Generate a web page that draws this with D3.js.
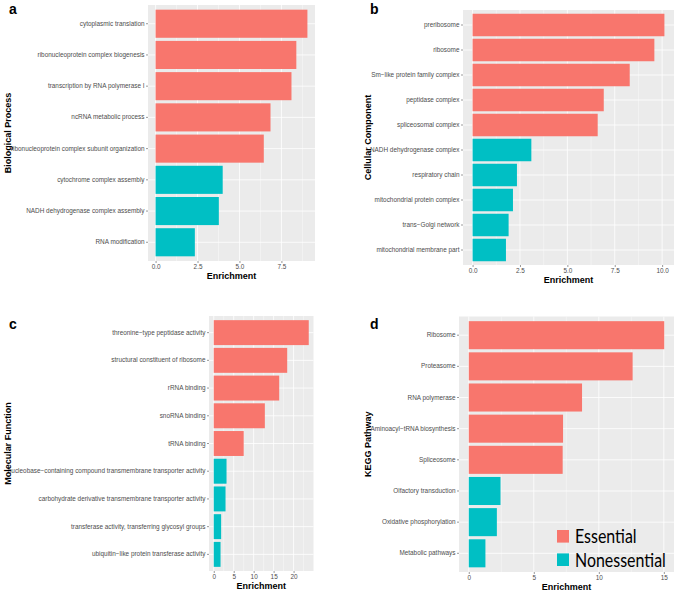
<!DOCTYPE html>
<html>
<head>
<meta charset="utf-8">
<script src="https://cdn.jsdelivr.net/npm/d3@7"></script>
<style>
  html, body { margin: 0; padding: 0; background: #fff; }
  svg { display: block; font-family: "Liberation Sans", Arial, Helvetica, sans-serif; }
</style>
</head>
<body>
<svg id="chart" width="675" height="592"></svg>
<script>
// ---------- DATA ----------
const groupNames = ["Essential", "Nonessential"];
const groupColors = ["#F8766D", "#00BFC4"];

const bpTerms = ["cytoplasmic translation", "ribonucleoprotein complex biogenesis", "transcription by RNA polymerase I",
  "ncRNA metabolic process", "ribonucleoprotein complex subunit organization", "cytochrome complex assembly",
  "NADH dehydrogenase complex assembly", "RNA modification"];
const bpValues = [9.05, 8.39, 8.1, 6.85, 6.45, 4.0, 3.77, 2.34];
const bpGroups = ["Essential", "Essential", "Essential", "Essential", "Essential", "Nonessential", "Nonessential", "Nonessential"];
const bpTicks = [0, 2.5, 5, 7.5];

const ccTerms = ["preribosome", "ribosome", "Sm\u2212like protein family complex", "peptidase complex", "spliceosomal complex",
  "NADH dehydrogenase complex", "respiratory chain", "mitochondrial protein complex", "trans\u2212Golgi network",
  "mitochondrial membrane part"];
const ccValues = [10.12, 9.59, 8.29, 6.92, 6.6, 3.1, 2.34, 2.13, 1.9, 1.76];
const ccGroups = ["Essential", "Essential", "Essential", "Essential", "Essential", "Nonessential", "Nonessential", "Nonessential", "Nonessential", "Nonessential"];
const ccTicks = [0, 2.5, 5, 7.5, 10];

const mfTerms = ["threonine\u2212type peptidase activity", "structural constituent of ribosome", "rRNA binding",
  "snoRNA binding", "tRNA binding", "nucleobase\u2212containing compound transmembrane transporter activity",
  "carbohydrate derivative transmembrane transporter activity", "transferase activity, transferring glycosyl groups",
  "ubiquitin\u2212like protein transferase activity"];
const mfValues = [23.8, 18.4, 16.4, 12.8, 7.5, 3.2, 2.95, 1.85, 1.7];
const mfGroups = ["Essential", "Essential", "Essential", "Essential", "Essential", "Nonessential", "Nonessential", "Nonessential", "Nonessential"];
const mfTicks = [0, 5, 10, 15, 20];

const keggTerms = ["Ribosome", "Proteasome", "RNA polymerase", "Aminoacyl\u2212tRNA biosynthesis", "Spliceosome",
  "Olfactory transduction", "Oxidative phosphorylation", "Metabolic pathways"];
const keggValues = [15.03, 12.6, 8.71, 7.25, 7.22, 2.44, 2.16, 1.28];
const keggGroups = ["Essential", "Essential", "Essential", "Essential", "Essential", "Nonessential", "Nonessential", "Nonessential"];
const keggTicks = [0, 5, 10, 15];

// ---------- LAYOUT ----------
const panels = [
  { tag: "a", title: "Biological Process", terms: bpTerms, values: bpValues, groups: bpGroups, ticks: bpTicks, fmt: ".1f",
    box: { x0: 148, x1: 315, y0: 5, y1: 261 }, titleX: 7.5, tagX: 9, tagY: 14 },
  { tag: "b", title: "Cellular Component", terms: ccTerms, values: ccValues, groups: ccGroups, ticks: ccTicks, fmt: ".1f",
    box: { x0: 463, x1: 674, y0: 10, y1: 265 }, titleX: 367.5, tagX: 370, tagY: 14 },
  { tag: "c", title: "Molecular Function", terms: mfTerms, values: mfValues, groups: mfGroups, ticks: mfTicks, fmt: "d",
    box: { x0: 209, x1: 313.5, y0: 316, y1: 571 }, titleX: 7.5, tagX: 9, tagY: 329 },
  { tag: "d", title: "KEGG Pathway", terms: keggTerms, values: keggValues, groups: keggGroups, ticks: keggTicks, fmt: "d",
    box: { x0: 459, x1: 674, y0: 316.5, y1: 572 }, titleX: 367.5, tagX: 370, tagY: 329 }
];

const color = d3.scaleOrdinal().domain(groupNames).range(groupColors);
const svg = d3.select("#chart");

panels.forEach(p => {
  const b = p.box;
  const max = d3.max(p.values);
  const x = d3.scaleLinear().domain([-0.05 * max, 1.05 * max]).range([b.x0, b.x1]);
  const y = d3.scaleBand().domain(p.terms).range([b.y0, b.y1]).paddingInner(0.1).paddingOuter(0.15);
  const g = svg.append("g");

  // panel background
  g.append("rect").attr("x", b.x0).attr("y", b.y0).attr("width", b.x1 - b.x0).attr("height", b.y1 - b.y0)
    .attr("fill", "#EBEBEB");

  // minor grid
  const step = p.ticks[1] - p.ticks[0];
  const minors = [p.ticks[0] - step / 2].concat(p.ticks.map(t => t + step / 2))
    .filter(v => v >= x.domain()[0] && v <= x.domain()[1]);
  g.selectAll(".minor").data(minors).enter().append("line")
    .attr("x1", d => x(d)).attr("x2", d => x(d)).attr("y1", b.y0).attr("y2", b.y1)
    .attr("stroke", "#fff").attr("stroke-width", 0.4);
  // major grid
  g.selectAll(".majorx").data(p.ticks).enter().append("line")
    .attr("x1", d => x(d)).attr("x2", d => x(d)).attr("y1", b.y0).attr("y2", b.y1)
    .attr("stroke", "#fff").attr("stroke-width", 0.8);
  g.selectAll(".majory").data(p.terms).enter().append("line")
    .attr("x1", b.x0).attr("x2", b.x1)
    .attr("y1", d => y(d) + y.bandwidth() / 2).attr("y2", d => y(d) + y.bandwidth() / 2)
    .attr("stroke", "#fff").attr("stroke-width", 0.8);

  // bars
  g.selectAll(".bar").data(p.terms).enter().append("rect")
    .attr("x", x(0)).attr("y", d => y(d))
    .attr("width", (d, i) => x(p.values[i]) - x(0))
    .attr("height", y.bandwidth())
    .attr("fill", (d, i) => color(p.groups[i]));

  // y axis
  const ya = g.append("g").attr("transform", `translate(${b.x0},0)`)
    .call(d3.axisLeft(y).tickSize(2).tickPadding(1.5));
  ya.select(".domain").remove();
  ya.selectAll("line").attr("stroke", "#333").attr("stroke-width", 0.5);
  ya.selectAll("text").attr("fill", "#4D4D4D").style("font-size", "6.4px")
    .style("font-family", "'Liberation Sans', Arial, sans-serif");

  // x axis
  const xa = g.append("g").attr("transform", `translate(0,${b.y1})`)
    .call(d3.axisBottom(x).tickValues(p.ticks).tickFormat(d3.format(p.fmt)).tickSize(2).tickPadding(1.5));
  xa.select(".domain").remove();
  xa.selectAll("line").attr("stroke", "#333").attr("stroke-width", 0.5);
  xa.selectAll("text").attr("fill", "#4D4D4D").style("font-size", "6.4px")
    .style("font-family", "'Liberation Sans', Arial, sans-serif");

  // x title
  g.append("text").attr("x", (b.x0 + b.x1) / 2).attr("y", b.y1 + 18)
    .attr("text-anchor", "middle").style("font-size", "9px").style("font-weight", "bold")
    .attr("fill", "#000").text("Enrichment");

  // y title
  g.append("text").attr("transform", `translate(${p.titleX + 3},${(b.y0 + b.y1) / 2}) rotate(-90)`)
    .attr("text-anchor", "middle").style("font-size", "9px").style("font-weight", "bold")
    .attr("fill", "#000").text(p.title);

  // panel tag
  g.append("text").attr("x", p.tagX).attr("y", p.tagY)
    .style("font-size", "14px").style("font-weight", "bold").attr("fill", "#000").text(p.tag);

  // legend inside panel d
  if (p.tag === "d") {
    const lg = g.append("g");
    const legendY = d3.scalePoint().domain(groupNames).range([536.3, 559.7]);
    lg.selectAll("rect").data(groupNames).enter().append("rect")
      .attr("x", 557).attr("y", d => legendY(d) - 6.3).attr("width", 12).attr("height", 12.6)
      .attr("fill", d => color(d));
    lg.selectAll("text").data(groupNames).enter().append("text")
      .attr("transform", d => `translate(575,${legendY(d) + 6.8}) scale(0.84,1)`)
      .style("font-family", "Lato, 'Open Sans', sans-serif").style("font-size", "19px")
      .attr("fill", "#000").text(d => d);
  }
});
</script>
</body>
</html>
